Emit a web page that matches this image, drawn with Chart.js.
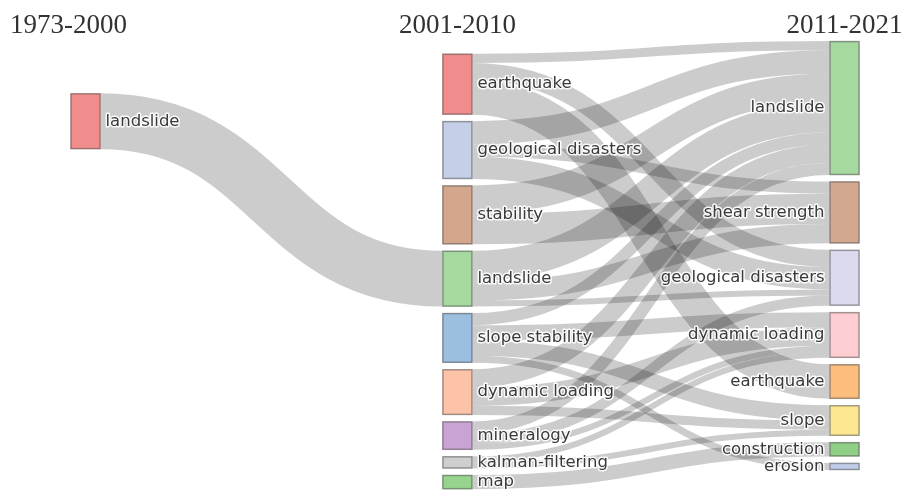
<!DOCTYPE html>
<html>
<head>
<meta charset="utf-8">
<script src="https://cdn.jsdelivr.net/npm/chart.js@4.4.0/dist/chart.umd.min.js"></script>
<style>
  html, body { margin: 0; padding: 0; background: #fff; }
</style>
</head>
<body>
<canvas id="sankey" width="902" height="491"></canvas>
<script>
// column headings
const columnTitles = ['1973-2000', '2001-2010', '2011-2021'];

// nodes of each period
const col0Nodes = ['landslide'];
const col1Nodes = ['earthquake', 'geological disasters', 'stability', 'landslide', 'slope stability',
                   'dynamic loading', 'mineralogy', 'kalman-filtering', 'map'];
const col2Nodes = ['landslide', 'shear strength', 'geological disasters', 'dynamic loading',
                   'earthquake', 'slope', 'construction', 'erosion'];

const col0Colors = ['#f08c8c'];
const col1Colors = ['#f08c8c', '#c6cfe8', '#d4a68e', '#a6d9a0', '#9cbfdf', '#fcc3a8', '#c9a3d3', '#cfcfcf', '#97d48d'];
const col2Colors = ['#a6d9a0', '#d4a890', '#dcdaee', '#fdcdd1', '#fdbd7c', '#fde891', '#90cf86', '#c1cde9'];

// links: [source index, target index, value]
const links01 = [[0, 3, 55]];
const links12 = [
  [0, 0, 9], [0, 2, 17], [0, 4, 34],
  [1, 0, 23], [1, 1, 12], [1, 2, 22],
  [2, 0, 28], [2, 1, 30],
  [3, 0, 30], [3, 1, 19], [3, 2, 6],
  [4, 0, 12], [4, 3, 15], [4, 5, 15], [4, 7, 7],
  [5, 0, 18], [5, 3, 18], [5, 5, 9],
  [6, 0, 12], [6, 2, 10], [6, 3, 6],
  [7, 3, 6], [7, 5, 6],
  [8, 6, 14]
];

const columns = [col0Nodes, col1Nodes, col2Nodes];
const colors = [col0Colors, col1Colors, col2Colors];
const linkSets = [links01, links12];

// layout settings: column placement on the x scale, top of each column (value units)
const columnPos = [0, 0.98, 2];
const columnTop = [92, 53, 40.5];
const nodePadding = 6.4;
const nodeWidth = 30;

// work out node values and stacked positions
function buildLayout() {
  const nodes = columns.map((names, c) => names.map((name, i) => ({
    name, col: c, idx: i, color: colors[c][i], inVal: 0, outVal: 0, outLinks: [], inLinks: []
  })));
  const links = [];
  linkSets.forEach((set, c) => {
    set.forEach(([s, t, v]) => {
      const l = { source: nodes[c][s], target: nodes[c + 1][t], value: v };
      l.source.outVal += v; l.target.inVal += v;
      l.source.outLinks.push(l); l.target.inLinks.push(l);
      links.push(l);
    });
  });
  nodes.forEach((col, c) => {
    let y = columnTop[c];
    col.forEach(n => {
      n.value = Math.max(n.inVal, n.outVal);
      n.y0 = y; n.y1 = y + n.value;
      y = n.y1 + nodePadding;
    });
  });
  nodes.flat().forEach(n => {
    let sy = n.y0;
    n.outLinks.sort((a, b) => a.target.y0 - b.target.y0).forEach(l => { l.sy = sy + l.value / 2; sy += l.value; });
    let ty = n.y0;
    n.inLinks.sort((a, b) => a.source.y0 - b.source.y0).forEach(l => { l.ty = ty + l.value / 2; ty += l.value; });
  });
  return { nodes: nodes.flat(), links };
}

const layout = buildLayout();

const sankeyPlugin = {
  id: 'sankeyDraw',
  afterDatasetsDraw(chart) {
    const ctx = chart.ctx;
    const x = chart.scales.x, y = chart.scales.y;
    const unit = Math.abs(y.getPixelForValue(1) - y.getPixelForValue(0));
    const left = n => x.getPixelForValue(columnPos[n.col]) - nodeWidth / 2;

    ctx.save();
    // links first, as thick curves
    ctx.lineCap = 'butt';
    layout.links.forEach(l => {
      const x0 = left(l.source) + nodeWidth, x1 = left(l.target);
      const y0 = y.getPixelForValue(l.sy), y1 = y.getPixelForValue(l.ty);
      const xm = (x0 + x1) / 2;
      ctx.beginPath();
      ctx.moveTo(x0, y0);
      ctx.bezierCurveTo(xm, y0, xm, y1, x1, y1);
      ctx.strokeStyle = 'rgba(0,0,0,0.2)';
      ctx.lineWidth = Math.max(1, l.value * unit);
      ctx.stroke();
    });

    // node boxes
    layout.nodes.forEach(n => {
      const top = y.getPixelForValue(n.y0), bot = y.getPixelForValue(n.y1);
      ctx.fillStyle = n.color;
      ctx.fillRect(left(n), top, nodeWidth, bot - top);
      ctx.strokeStyle = 'rgba(90,90,90,0.55)';
      ctx.lineWidth = 1.5;
      ctx.strokeRect(left(n) + 0.5, top + 0.5, nodeWidth - 1, bot - top - 1);
    });

    // node labels with a white halo
    ctx.font = '16.5px "DejaVu Sans", sans-serif';
    ctx.textBaseline = 'middle';
    ctx.lineJoin = 'round';
    layout.nodes.forEach(n => {
      const cy = y.getPixelForValue((n.y0 + n.y1) / 2);
      let tx;
      if (n.col === 2) { ctx.textAlign = 'right'; tx = left(n) - 5; }
      else { ctx.textAlign = 'left'; tx = left(n) + nodeWidth + 5; }
      ctx.strokeStyle = 'rgba(255,255,255,0.9)';
      ctx.lineWidth = 3;
      ctx.strokeText(n.name, tx, cy);
      ctx.fillStyle = '#3a3a3a';
      ctx.fillText(n.name, tx, cy);
    });

    // period headings
    ctx.font = '27px "Liberation Serif", serif';
    ctx.textBaseline = 'alphabetic';
    ctx.fillStyle = '#333';
    columnTitles.forEach((t, c) => {
      if (c === 0) { ctx.textAlign = 'left'; ctx.fillText(t, 10, 33); }
      else { ctx.textAlign = 'center'; ctx.fillText(t, x.getPixelForValue(columnPos[c]), 33); }
    });
    ctx.restore();
  }
};

new Chart(document.getElementById('sankey'), {
  type: 'scatter',
  data: {
    datasets: [{
      data: layout.nodes.map(n => ({ x: columnPos[n.col], y: (n.y0 + n.y1) / 2 })),
      pointRadius: 0,
      pointHoverRadius: 0
    }]
  },
  options: {
    responsive: false,
    animation: false,
    events: [],
    layout: { padding: 0 },
    plugins: { legend: { display: false }, tooltip: { enabled: false } },
    scales: {
      x: { type: 'linear', min: -0.2253, max: 2.1515, display: false },
      y: { type: 'linear', min: 0, max: 484, reverse: true, display: false }
    }
  },
  plugins: [sankeyPlugin]
});
</script>
</body>
</html>
